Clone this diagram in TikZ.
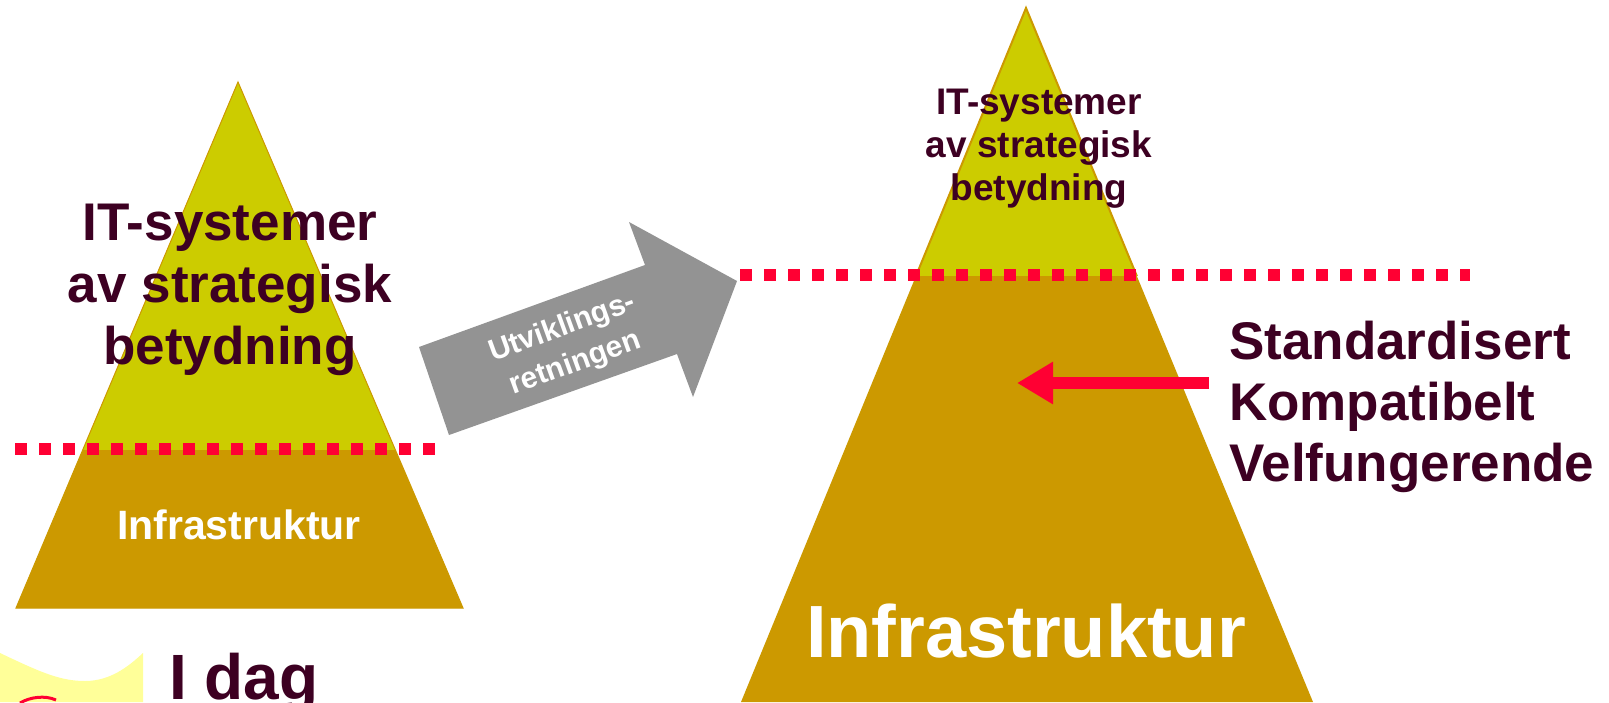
\documentclass[tikz,border=0pt]{standalone}
\usepackage{fontspec}
\setmainfont{Liberation Sans}
\usetikzlibrary{arrows.meta}
\usetikzlibrary{positioning}

\definecolor{itgul}{HTML}{CCCC00}
\definecolor{itgull}{HTML}{CC9900}
\definecolor{itrod}{HTML}{FF0033}
\definecolor{itbrun}{HTML}{3D0022}
\definecolor{itgraa}{HTML}{939393}
\definecolor{itlys}{HTML}{FFFF99}

\tikzset{
  skille/.style={itrod,line width=12pt,dash pattern=on 12pt off 12pt},
  lagtekst/.style={font=\bfseries,text=itbrun,align=center,inner sep=0pt},
  grunntekst/.style={font=\bfseries,text=white,inner sep=0pt,anchor=base},
}

\begin{document}
\begin{tikzpicture}[x=1pt,y=-1pt]
\useasboundingbox[fill=white] (0,0) rectangle (1609,702);

% venstre pyramide (i dag)
\fill[itgull] (238,82) -- (463,608) -- (16,608) -- cycle;
\begin{scope}
\clip (0,0) rectangle (700,449);
\fill[itgul] (238,82) -- (463,608) -- (16,608) -- cycle;
\end{scope}
\draw[itgull,line width=1pt] (238,82) -- (463,608) -- (16,608) -- cycle;
\draw[skille] (15,449) -- (437,449);
\node[lagtekst,font=\fontsize{53}{62}\selectfont\bfseries] (strategiV) at (230,290) {IT-systemer\\av strategisk\\betydning};
\node[grunntekst,font=\fontsize{41}{48}\selectfont\bfseries] (infraV) at (239,539) {Infrastruktur};

% utviklingspil
\fill[itgraa] (419,347) -- (645,265) -- (629,222) -- (737,281) -- (693,397) -- (677,354) -- (449,435) -- cycle;
\node[font=\fontsize{30}{38}\selectfont\bfseries,text=white,align=center,rotate=20,inner sep=0pt] (retning) at (569,346) {Utviklings-\\retningen};

% hoyre pyramide (fremtid)
\fill[itgull] (1026,8) -- (1313,702) -- (741,702) -- cycle;
\begin{scope}
\clip (700,0) rectangle (1500,275);
\fill[itgul] (1026,8) -- (1313,702) -- (741,702) -- cycle;
\draw[itgull,line width=2pt] (1026,8) -- (1313,702) -- (741,702) -- cycle;
\end{scope}
\draw[skille] (740,275) -- (1470,275);
\node[lagtekst,font=\fontsize{37}{43}\selectfont\bfseries] (strategiH) at (1039,149) {IT-systemer\\av strategisk\\betydning};
\node[grunntekst,font=\fontsize{74}{80}\selectfont\bfseries] (infraH) at (1026,657) {Infrastruktur};

% egenskaper
\node[font=\fontsize{53}{61}\selectfont\bfseries,text=itbrun,align=left,inner sep=0pt,anchor=west] (egenskap) at (1229,407) {Standardisert\\Kompatibelt\\Velfungerende};
\coordinate (pilmaal) at (1017,383);
\draw[itrod,line width=12pt,-{Triangle[length=36pt,width=40pt]}] (egenskap.west |- pilmaal) ++(-20,0) -- (pilmaal);

% i dag
\fill[itlys] (0,653) .. controls (40,672) and (60,681) .. (85,681) .. controls (110,681) and (128,667) .. (143,653) -- (143,702) -- (0,702) -- cycle;
\draw[itrod,line width=3pt] (20,703) .. controls (30,697) and (45,695) .. (56,700);
\node[font=\fontsize{64}{70}\selectfont\bfseries,text=itbrun,anchor=base west,inner sep=0pt] (idag) at (169,699) {I dag};
\end{tikzpicture}
\end{document}
